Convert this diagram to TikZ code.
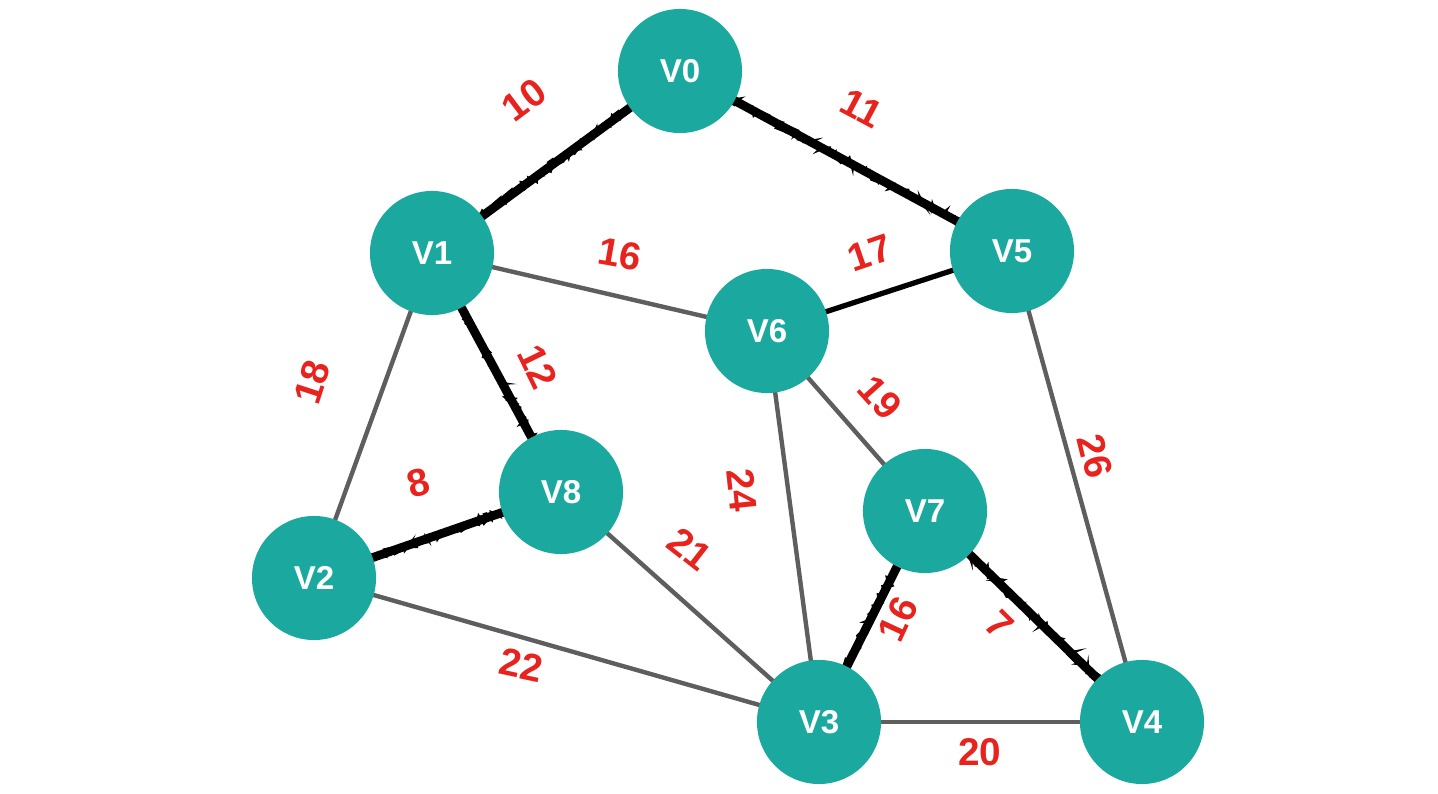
\documentclass[tikz,border=0pt]{standalone}
\usepackage{fontspec}
\setmainfont{Liberation Sans}
\usetikzlibrary{decorations.pathmorphing}
\definecolor{teal1}{HTML}{1BA99F}
\definecolor{wred}{HTML}{E8231E}
\definecolor{egray}{HTML}{5E5E5E}
\tikzset{
  vtx/.style={circle,fill=teal1,minimum size=1.24cm,inner sep=0pt,text=white,font=\fontsize{9.4}{11}\selectfont\bfseries},
  wt/.style={text=wred,font=\fontsize{11}{12}\selectfont\bfseries,inner sep=0pt},
  gedge/.style={draw=egray,line width=1.25pt},
  bedge/.style={draw=black,line width=1.5pt},
  tedge/.style={draw=black,line width=2.5pt},
  rough/.style={draw=black,line width=0.7pt,decorate,decoration={random steps,segment length=0.8pt,amplitude=1.3pt}}
}
\begin{document}
\begin{tikzpicture}[x=0.01cm,y=-0.01cm]
\useasboundingbox (0,0) rectangle (1438,794);
% edges first, nodes drawn on top
\coordinate (c0) at (680,71);
\coordinate (c1) at (432,253);
\coordinate (c5) at (1012,251);
\coordinate (c6) at (767,331);
\coordinate (c8) at (561,492);
\coordinate (c7) at (925,511);
\coordinate (c2) at (314,578);
\coordinate (c3) at (819,722);
\coordinate (c4) at (1142,722);
\path[gedge] (c1) -- (c6);
\path[gedge] (c1) -- (c2);
\path[gedge] (c6) -- (c3);
\path[gedge] (c6) -- (c7);
\path[gedge] (c5) -- (c4);
\path[gedge] (c8) -- (c3);
\path[gedge] (c2) -- (c3);
\path[gedge] (c3) -- (c4);
\path[bedge] (c6) -- (c5);
\foreach \a/\b in {c0/c1,c0/c5,c1/c8,c8/c2,c7/c3,c7/c4}{
  \path[tedge] (\a) -- (\b);
  \path[rough] (\a) -- (\b);
}
% nodes
\node[vtx] (v0) at (c0) {V0};
\node[vtx] (v1) at (c1) {V1};
\node[vtx] (v5) at (c5) {V5};
\node[vtx] (v6) at (c6) {V6};
\node[vtx] (v8) at (c8) {V8};
\node[vtx] (v7) at (c7) {V7};
\node[vtx] (v2) at (c2) {V2};
\node[vtx] (v3) at (c3) {V3};
\node[vtx] (v4) at (c4) {V4};
% weights
\node[wt,rotate=37] (w10) at (524,100) {10};
\node[wt,rotate=-28] (w11) at (862,108) {11};
\node[wt,rotate=-10] (w16a) at (620,254) {16};
\node[wt,rotate=19] (w17) at (870,253) {17};
\node[wt,rotate=72] (w18) at (312,382) {18};
\node[wt,rotate=-64] (w12) at (538,367) {12};
\node[wt,rotate=15] (w8) at (418,483) {8};
\node[wt,rotate=-12] (w22) at (521,665) {22};
\node[wt,rotate=-38] (w21) at (690,549) {21};
\node[wt,rotate=-84] (w24) at (742,490) {24};
\node[wt,rotate=-48] (w19) at (880,398) {19};
\node[wt,rotate=-76] (w26) at (1095,456) {26};
\node[wt,rotate=65] (w16b) at (898,619) {16};
\node[wt,rotate=-45] (w7) at (1000,625) {7};
\node[wt] (w20) at (980,752) {20};
\end{tikzpicture}
\end{document}
